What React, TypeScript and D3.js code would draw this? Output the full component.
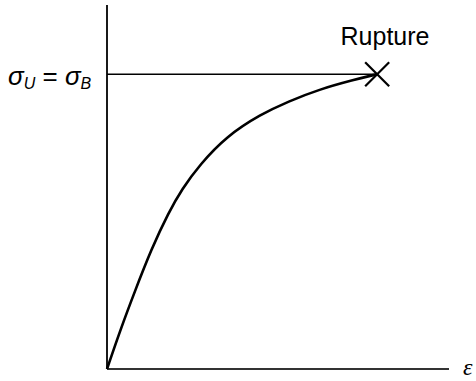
import { scaleLinear, line, curveBasis } from 'd3'

// stress-strain curve (arbitrary units)
const strain = [0, 0.04, 0.08, 0.13, 0.18, 0.22, 0.27, 0.35, 0.45, 0.53, 0.62, 0.72, 0.79]
const stress = [0, 0.11, 0.21, 0.33, 0.43, 0.495, 0.56, 0.64, 0.7, 0.735, 0.768, 0.794, 0.81]
const axisMax = { x: 1, y: 1 }

export default function App() {
  const view = { x: 476, y: 381 }
  const origin = { x: 107, y: 369 }

  const xScale = scaleLinear().domain([0, axisMax.x]).range([origin.x, 449])
  const yScale = scaleLinear().domain([0, axisMax.y]).range([origin.y, 5])

  const points = strain.map((e, i) => [e, stress[i]] as [number, number])
  const path = line<[number, number]>()
    .x(d => xScale(d[0]))
    .y(d => yScale(d[1]))
    .curve(curveBasis)(points)

  const last = points[points.length - 1]
  const rx = xScale(last[0])
  const ry = yScale(last[1])
  const m = 12 // half size of the rupture cross

  const font = "'Liberation Sans', Arial, sans-serif"

  return (
    <svg width={view.x} height={view.y} viewBox={`0 0 ${view.x} ${view.y}`}
      style={{ position: 'absolute', left: 0, top: 0, background: 'white' }}>
      {/* axes */}
      <line x1={origin.x} y1={yScale(axisMax.y)} x2={origin.x} y2={origin.y} stroke="black" strokeWidth={1.8} />
      <line x1={origin.x} y1={origin.y} x2={xScale(axisMax.x)} y2={origin.y} stroke="#333" strokeWidth={1.8} />

      {/* ultimate stress level */}
      <line x1={origin.x} y1={ry} x2={rx} y2={ry} stroke="black" strokeWidth={1.5} />

      {/* curve */}
      <path d={path ?? ''} fill="none" stroke="black" strokeWidth={2.6} />

      {/* rupture cross */}
      <g stroke="black" strokeWidth={2.2}>
        <line x1={rx - m} y1={ry - m} x2={rx + m} y2={ry + m} />
        <line x1={rx - m} y1={ry + m} x2={rx + m} y2={ry - m} />
      </g>
      <text x={385} y={45} textAnchor="middle" fontFamily={font} fontSize={25}>Rupture</text>

      {/* y label */}
      <text x={8} y={85} fontFamily={font} fontSize={26} fontStyle="italic">
        σ<tspan fontSize={16} dy={4}>U</tspan>
        <tspan dy={-4} fontStyle="normal"> = </tspan>σ<tspan fontSize={16} dy={4}>B</tspan>
      </text>

      {/* x label */}
      <text x={463} y={375} fontFamily="'Liberation Serif', 'Times New Roman', serif" fontSize={24} fontStyle="italic">ε</text>
    </svg>
  )
}
